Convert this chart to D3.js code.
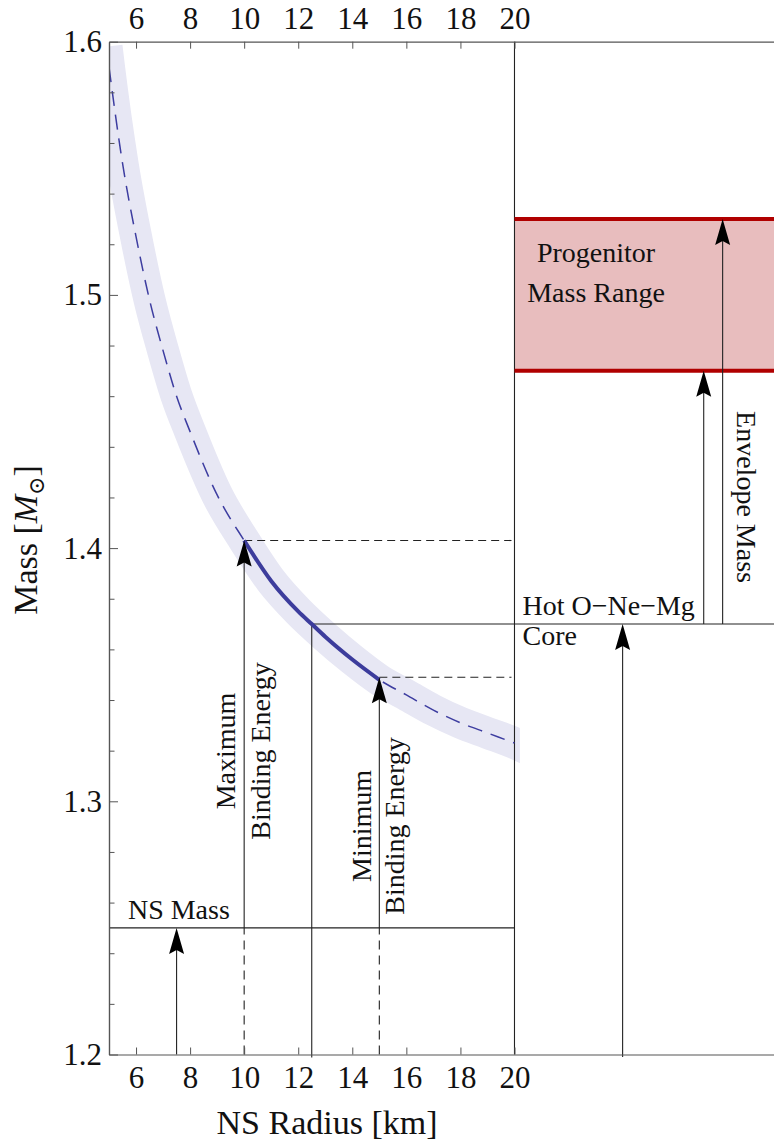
<!DOCTYPE html>
<html>
<head>
<meta charset="utf-8">
<script src="https://cdn.jsdelivr.net/npm/d3@7"></script>
<style>
  body { margin: 0; background: #fff; }
  svg text { font-family: "Liberation Serif", "Times New Roman", "DejaVu Serif", serif; fill: #111; }
</style>
</head>
<body>
<div id="container"></div>
<script>
// Data
const radius = [5, 5.5, 6, 6.5, 7, 7.5, 8, 9, 10, 11, 12, 12.5, 13, 14, 15, 16, 17, 18, 19, 20];
const mass = [1.590, 1.552, 1.523, 1.498, 1.478, 1.460, 1.446, 1.421, 1.403, 1.387, 1.375, 1.370, 1.365, 1.356, 1.348, 1.342, 1.336, 1.331, 1.327, 1.323];
const bandRadius = [4.91, 5, 5.5, 6, 6.5, 7, 7.5, 8, 9, 10, 11, 12, 13, 14, 15, 16, 17, 18, 19, 20, 20.6];
const bandMass = [1.598, 1.590, 1.552, 1.523, 1.498, 1.478, 1.460, 1.446, 1.421, 1.403, 1.387, 1.375, 1.365, 1.356, 1.348, 1.342, 1.336, 1.331, 1.327, 1.323, 1.320];

const nsMass = 1.25;
const coreMass = 1.37;
const coreRadius = 12.5;
const maxBE = { r: 10, m: 1.403 };
const minBE = { r: 15, m: 1.349 };
const progenitorRange = [1.47, 1.53];
const maxRadius = 20;
const bandEnd = 20.2;

// arrows: x position (km units), from mass, to mass
const arrows = [
  { x: 7.5, from: 1.2, to: nsMass },
  { x: maxBE.r, from: nsMass, to: maxBE.m },
  { x: minBE.r, from: nsMass, to: minBE.m },
  { x: 24, from: 1.199, to: coreMass },
  { x: 27, from: coreMass, to: progenitorRange[0] },
  { x: 27.7, from: coreMass, to: progenitorRange[1] },
];

const xTicks = [6, 8, 10, 12, 14, 16, 18, 20];
const yTicks = [1.2, 1.3, 1.4, 1.5, 1.6];

// Constants
const width = 774;
const height = 1144;
const pLeft = 109, pRight = 774, pTop = 41.7, pBottom = 1054.5;

const x = d3.scaleLinear().domain([5, 29.6]).range([pLeft, pRight]);
const y = d3.scaleLinear().domain([1.2, 1.6]).range([pBottom, pTop]);

const svg = d3.select("#container").append("svg")
  .attr("width", width).attr("height", height);

const defs = svg.append("defs");
defs.append("clipPath").attr("id", "plot")
  .append("rect").attr("x", pLeft).attr("y", pTop)
  .attr("width", pRight - pLeft).attr("height", pBottom - pTop);
defs.append("clipPath").attr("id", "bandclip")
  .append("rect").attr("x", pLeft + 1).attr("y", pTop)
  .attr("width", x(bandEnd) - pLeft - 1).attr("height", pBottom - pTop);

// Progenitor mass range
svg.append("rect")
  .attr("x", x(maxRadius)).attr("y", y(progenitorRange[1]))
  .attr("width", pRight - x(maxRadius))
  .attr("height", y(progenitorRange[0]) - y(progenitorRange[1]))
  .attr("fill", "#e8bdbe");

// Band round the curve
const curve = d3.line().x((d) => x(d[0])).y((d) => y(d[1])).curve(d3.curveMonotoneX);
const bandPts = d3.zip(bandRadius, bandMass);
svg.append("path")
  .attr("clip-path", "url(#bandclip)")
  .attr("d", curve(bandPts))
  .attr("fill", "none").attr("stroke", "#e7e7f4").attr("stroke-width", 32);

// Helper lines
const g = svg.append("g").attr("stroke", "#222").attr("stroke-width", 1.1).attr("fill", "none");
g.append("line").attr("x1", x(maxRadius)).attr("x2", x(maxRadius)).attr("y1", pBottom).attr("y2", pTop);
g.append("line").attr("x1", pLeft).attr("x2", x(maxRadius)).attr("y1", y(nsMass)).attr("y2", y(nsMass));
g.append("line").attr("x1", x(coreRadius)).attr("x2", pRight).attr("y1", y(coreMass)).attr("y2", y(coreMass));
g.append("line").attr("x1", x(coreRadius)).attr("x2", x(coreRadius)).attr("y1", pBottom + 3).attr("y2", y(coreMass));
[maxBE, minBE].forEach((p) => {
  g.append("line").attr("x1", x(p.r)).attr("x2", x(p.r)).attr("y1", pBottom).attr("y2", y(nsMass))
    .attr("stroke-dasharray", "9,6");
  g.append("line").attr("x1", x(p.r)).attr("x2", x(maxRadius) - 3).attr("y1", y(p.m)).attr("y2", y(p.m))
    .attr("stroke-dasharray", "8,5");
});

// Curve: dashed everywhere, solid between the binding-energy limits
const pts = d3.zip(radius, mass);
svg.append("path").attr("clip-path", "url(#plot)").attr("d", curve(pts))
  .attr("fill", "none").attr("stroke", "#3d3da0").attr("stroke-width", 1.5)
  .attr("stroke-dasharray", "15,9");
svg.append("path").attr("d", curve(pts.filter((d) => d[0] >= maxBE.r && d[0] <= minBE.r)))
  .attr("fill", "none").attr("stroke", "#3c3c9c").attr("stroke-width", 4);

// Progenitor range edges
svg.selectAll(".edge").data(progenitorRange).enter().append("line")
  .attr("x1", x(maxRadius)).attr("x2", pRight)
  .attr("y1", (d) => y(d)).attr("y2", (d) => y(d))
  .attr("stroke", "#b00000").attr("stroke-width", 4);

// Arrows
const ag = svg.append("g");
ag.selectAll("line").data(arrows).enter().append("line")
  .attr("x1", (d) => x(d.x)).attr("x2", (d) => x(d.x))
  .attr("y1", (d) => y(d.from)).attr("y2", (d) => y(d.to) + 10)
  .attr("stroke", "#222").attr("stroke-width", 1.1);
ag.selectAll("path").data(arrows).enter().append("path")
  .attr("d", "M0,0 L-7.5,26 L0,22 L7.5,26 Z")
  .attr("transform", (d) => `translate(${x(d.x)},${y(d.to)})`)
  .attr("fill", "#000");

// Axes
const fs = 31;
const axStyle = (sel) => {
  sel.attr("font-family", null);
  sel.selectAll(".domain").attr("stroke", "#555").attr("stroke-width", 1.2);
  sel.selectAll(".tick line").attr("stroke", "#555").attr("stroke-width", 1);
  sel.selectAll("text").attr("font-size", fs).attr("fill", "#111");
};
svg.append("g").attr("transform", `translate(0,${pBottom})`)
  .call(d3.axisBottom(x).tickValues(xTicks).tickSize(-7).tickSizeOuter(0).tickPadding(11))
  .call(axStyle);
svg.append("g").attr("transform", `translate(0,${pTop})`)
  .call(d3.axisTop(x).tickValues(xTicks).tickSize(-7).tickSizeOuter(0).tickPadding(12.5))
  .call(axStyle);
svg.append("g").attr("transform", `translate(${pLeft},0)`)
  .call(d3.axisLeft(y).tickValues(d3.range(1.22, 1.6, 0.02).filter((v) => Math.abs(v * 10 - Math.round(v * 10)) > 0.01))
    .tickSize(-5.5).tickSizeOuter(0).tickFormat(""))
  .call(axStyle);
svg.append("g").attr("transform", `translate(${pLeft},0)`)
  .call(d3.axisLeft(y).tickValues(yTicks).tickSize(-9).tickSizeOuter(0).tickPadding(7).tickFormat(d3.format(".1f")))
  .call(axStyle);

// Axis titles
svg.append("text").attr("x", 327).attr("y", 1134).attr("text-anchor", "middle")
  .attr("font-size", 34).text("NS Radius [km]");
const yt = svg.append("text").attr("transform", "translate(37,540) rotate(-90)")
  .attr("text-anchor", "middle").attr("font-size", 34);
yt.append("tspan").text("Mass [");
yt.append("tspan").attr("font-style", "italic").text("M");
yt.append("tspan").attr("font-size", 22).attr("dy", 7).text("\u2299");
yt.append("tspan").attr("dy", -7).text("]");

// Annotations
const fa = 28;
const note = (tx, ty, rot, anchor, str) =>
  svg.append("text").attr("transform", `translate(${tx},${ty}) rotate(${rot})`)
    .attr("text-anchor", anchor).attr("font-size", fa).text(str);
note(x(5.7), y(nsMass) - 9, 0, "start", "NS Mass");
note(x(maxBE.r) - 9, 751, -90, "middle", "Maximum");
note(x(maxBE.r) + 26, 751, -90, "middle", "Binding Energy");
note(x(minBE.r) - 8, 826, -90, "middle", "Minimum");
note(x(minBE.r) + 25, 826, -90, "middle", "Binding Energy");
note(x(maxRadius) + 8, y(coreMass) - 9, 0, "start", "Hot O\u2212Ne\u2212Mg");
note(x(maxRadius) + 8, y(coreMass) + 21, 0, "start", "Core");
note(596, 262, 0, "middle", "Progenitor");
note(596, 302, 0, "middle", "Mass Range");
note(737, 497, 90, "middle", "Envelope Mass");
</script>
</body>
</html>
